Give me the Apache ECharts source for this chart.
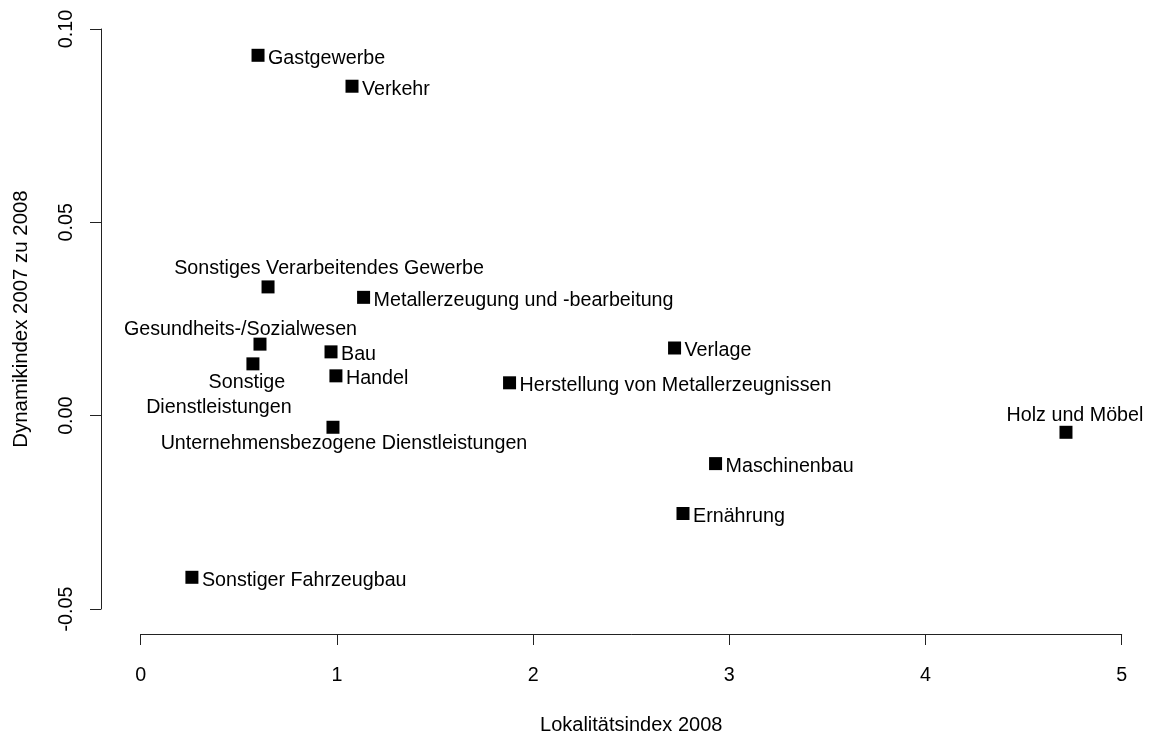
<!DOCTYPE html>
<html>
<head>
<meta charset="utf-8">
<script src="https://cdn.jsdelivr.net/npm/echarts@6/dist/echarts.min.js"></script>
<style>
html,body{margin:0;padding:0;background:#fff;}
#chart{width:1149px;height:740px;}
</style>
</head>
<body>
<div id="chart"></div>
<script>
// ---- data ----
const categories = [
  'Gastgewerbe',
  'Verkehr',
  'Sonstiges Verarbeitendes Gewerbe',
  'Metallerzeugung und -bearbeitung',
  'Gesundheits-/Sozialwesen',
  'Bau',
  'Sonstige Dienstleistungen',
  'Handel',
  'Unternehmensbezogene Dienstleistungen',
  'Herstellung von Metallerzeugnissen',
  'Verlage',
  'Maschinenbau',
  'Ernährung',
  'Holz und Möbel',
  'Sonstiger Fahrzeugbau'
];
const lokalitaetsindex = [0.598, 1.077, 0.649, 1.136, 0.608, 0.970, 0.572, 0.995, 0.980, 1.880, 2.721, 2.930, 2.764, 4.716, 0.261];
const dynamikindex = [0.0932, 0.0852, 0.0333, 0.0306, 0.0185, 0.0165, 0.0134, 0.0103, -0.0030, 0.0085, 0.0175, -0.0124, -0.0253, -0.0043, -0.0418];
const xTicks = [0, 1, 2, 3, 4, 5];
const yTicks = [-0.05, 0.00, 0.05, 0.10];
const xTitle = 'Lokalitätsindex 2008';
const yTitle = 'Dynamikindex 2007 zu 2008';

// ---- label layout (style only) ----
const labelLayout = [
  {align: 'left', dx: 10, dy: 3},
  {align: 'left', dx: 10, dy: 3},
  {align: 'center', dx: 61, dy: -18},
  {align: 'left', dx: 10, dy: 3},
  {align: 'center', dx: -19.5, dy: -15},
  {align: 'left', dx: 10, dy: 3},
  {align: 'center', dx: -34, dy: 31.3, split: true},
  {align: 'left', dx: 10, dy: 3},
  {align: 'center', dx: 11, dy: 16.8},
  {align: 'left', dx: 10, dy: 3},
  {align: 'left', dx: 10, dy: 3},
  {align: 'left', dx: 10, dy: 3},
  {align: 'left', dx: 10, dy: 3},
  {align: 'center', dx: 9, dy: -17},
  {align: 'left', dx: 10, dy: 3}
];

const FONT = 'Liberation Sans, Arial, Helvetica, sans-serif';
const FS = 19.7;

const seriesData = categories.map((name, i) => {
  const L = labelLayout[i];
  const label = {
    show: true,
    position: 'inside',
    align: L.align,
    verticalAlign: 'middle',
    offset: [L.dx, L.dy],
    color: '#000',
    opacity: 1,
    fontSize: FS,
    fontFamily: FONT
  };
  if (L.split) {
    const parts = name.split(' ');
    label.formatter = '{a|' + parts[0] + '}\n{b|' + parts[1] + '}';
    label.lineHeight = 25;
    label.rich = {
      a: {padding: [0, 0, 0, 56], fontSize: FS, fontFamily: FONT, color: '#000', lineHeight: 25},
      b: {fontSize: FS, fontFamily: FONT, color: '#000', lineHeight: 25}
    };
  } else {
    label.formatter = name;
  }
  return {name: name, value: [lokalitaetsindex[i], dynamikindex[i]], label: label};
});

const chart = echarts.init(document.getElementById('chart'), null, {renderer: 'canvas'});
chart.setOption({
  backgroundColor: '#fff',
  animation: false,
  grid: {left: 140.7, right: 27.3, top: 29, bottom: 126, containLabel: false},
  xAxis: {
    type: 'value',
    min: xTicks[0], max: xTicks[xTicks.length - 1], interval: 1,
    offset: 25,
    name: xTitle, nameLocation: 'middle', nameGap: 81,
    nameTextStyle: {color: '#000', fontSize: 20, fontFamily: FONT},
    axisLine: {show: true, onZero: false, lineStyle: {color: '#222', width: 1}},
    axisTick: {show: true, length: 11, lineStyle: {color: '#222', width: 1}},
    axisLabel: {color: '#000', fontSize: FS, fontFamily: FONT, margin: 32, formatter: v => String(v)},
    splitLine: {show: false}
  },
  yAxis: {
    type: 'value',
    min: yTicks[0], max: yTicks[yTicks.length - 1], interval: 0.05,
    offset: 39.7,
    name: yTitle, nameLocation: 'middle', nameGap: 70,
    nameTextStyle: {color: '#000', fontSize: 20.4, fontFamily: FONT},
    axisLine: {show: true, onZero: false, lineStyle: {color: '#222', width: 1}},
    axisTick: {show: true, length: 11, lineStyle: {color: '#222', width: 1}},
    axisLabel: {color: '#000', fontSize: FS, fontFamily: FONT, margin: 24, rotate: 90,
      formatter: v => (Math.abs(v) < 1e-9 ? 0 : v).toFixed(2)},
    splitLine: {show: false}
  },
  series: [{
    type: 'scatter',
    symbol: 'rect',
    symbolSize: 13,
    itemStyle: {color: '#000', opacity: 1},
    emphasis: {disabled: true},
    clip: false,
    data: seriesData
  }]
});
</script>
</body>
</html>
